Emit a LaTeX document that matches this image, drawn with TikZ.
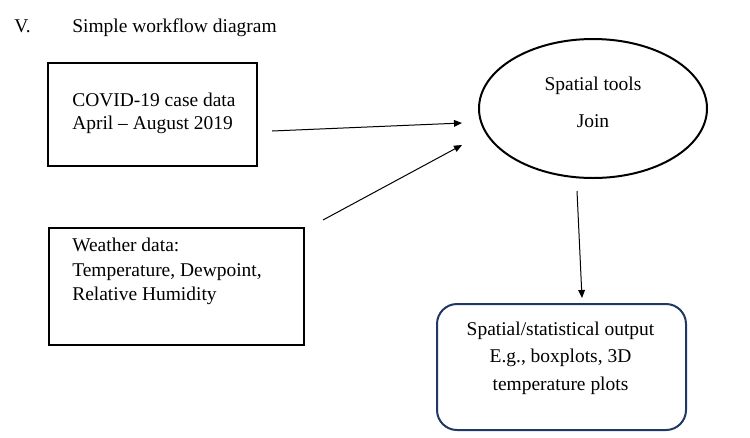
\documentclass[tikz,border=0pt]{standalone}
\usepackage{fontspec}
\setmainfont{LiberationSerif}[Extension=.ttf,UprightFont=*-Regular,BoldFont=*-Bold]
\usetikzlibrary{arrows.meta,shapes.geometric}
\definecolor{navy}{RGB}{32,56,100}

\begin{document}
\begin{tikzpicture}[x=0.75pt,y=-0.75pt,
    every node/.style={inner sep=0pt,font=\fontsize{14.6}{17.5}\selectfont},
    box/.style={draw,line width=1.5pt},
    arr/.style={-{Triangle[length=6pt,width=5pt]},line width=0.75pt}]
    \useasboundingbox (0,0) rectangle (750,437);
    \node[anchor=base west] (num) at (14,32) {V.};
    \node[anchor=base west] (title) at (72,32) {Simple workflow diagram};
    % input boxes
    \node[box,minimum width=156.75pt,minimum height=77.25pt] (covid) at (152.5,114.5) {};
    \node[anchor=north west,align=left] (covidtxt) at (72,92.7) {COVID-19 case data\\April -- August 2019};
    \node[box,minimum width=191.25pt,minimum height=87.75pt] (weather) at (176.5,286.5) {};
    \node[anchor=north west,align=left,font=\fontsize{14.6}{18.4}\selectfont] (weathertxt) at (72,237.7)
        {Weather data:\\Temperature, Dewpoint,\\Relative Humidity};
    % join
    \node[box,ellipse,minimum width=171pt,minimum height=104.25pt] (tools) at (593,108.5) {};
    \node[anchor=north,align=center,font=\fontsize{14.6}{27.75}\selectfont] (toolstxt) at (593,76.7)
        {Spatial tools\\Join};
    % output
    \node[box,draw=navy,rounded corners=15pt,minimum width=186.75pt,minimum height=94.5pt] (output) at (561.5,367) {};
    \node[anchor=north,align=center,font=\fontsize{14.6}{20.6}\selectfont] (outputtxt) at (560.5,321.7)
        {Spatial/statistical output\\E.g., boxplots, 3D\\temperature plots};
    % arrows
    \coordinate (c1) at (272,131);
    \coordinate (t1) at (462,123);
    \coordinate (c2) at (323,220);
    \coordinate (t2) at (462,145);
    \coordinate (c3) at (577,191);
    \coordinate (t3) at (582,298);
    \draw[arr] (c1) -- (t1);
    \draw[arr] (c2) -- (t2);
    \draw[arr] (c3) -- (t3);
\end{tikzpicture}
\end{document}
